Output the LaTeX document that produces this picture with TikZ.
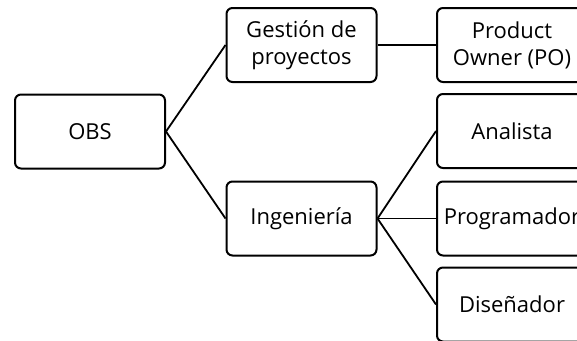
\documentclass[tikz,border=0pt]{standalone}
\usepackage{fontspec}
\setmainfont{Open Sans}
\usepackage{tikz}
\tikzset{obox/.style={draw,rounded corners=6pt,line width=2pt,minimum width=150pt,minimum height=74pt,align=center,font=\fontsize{22}{27}\selectfont,inner sep=1pt}}
\tikzset{olink/.style={draw,line width=1.8pt}}

\begin{document}
\begin{tikzpicture}[x=1pt,y=-1pt]
    \useasboundingbox (0,0) rectangle (577,340);

    \node[obox] (obs) at (90,131.5) {OBS};
    \node[obox] (gest) at (301.5,45) {Gestión de\\proyectos};
    \node[obox] (ing) at (301.5,218.5) {Ingeniería};
    \node[obox] (po) at (512,45) {Product\\Owner (PO)};

    \draw[olink] (obs.east) -- (gest.west);
    \draw[olink] (obs.east) -- (ing.west);
    \draw[olink] (gest.east) -- (po.west);

    \foreach \n/\y/\t in {ana/131/Analista,prog/218.5/Programador,dis/304.5/Diseñador}{
      \node[obox] (\n) at (512,\y) {\t};
      \draw[olink] (ing.east) -- (\n.west);
    }
\end{tikzpicture}
\end{document}
